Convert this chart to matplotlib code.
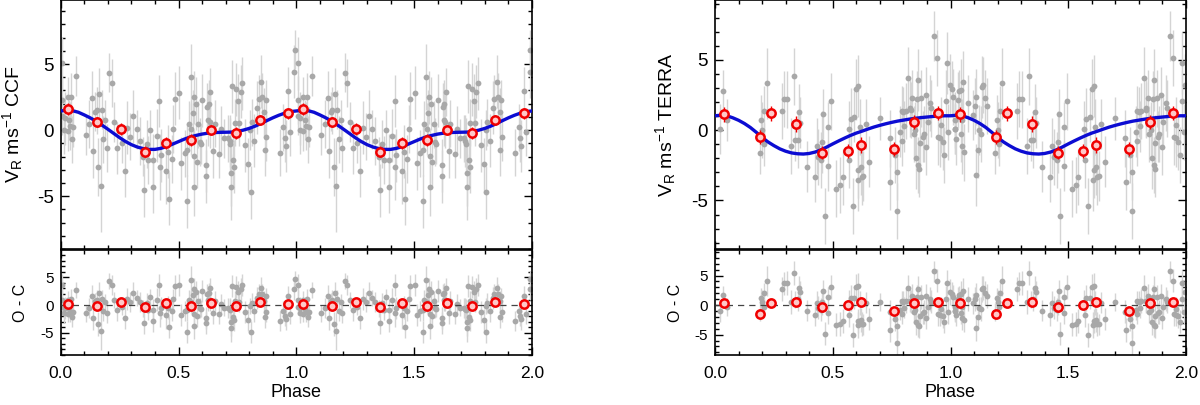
import numpy as np
import matplotlib
matplotlib.use('Agg')
import matplotlib.pyplot as plt
from matplotlib.ticker import MultipleLocator, FormatStrFormatter

plt.rcParams['font.family'] = ['Liberation Sans', 'DejaVu Sans']
plt.rcParams['mathtext.default'] = 'regular'
plt.rcParams['axes.unicode_minus'] = False

# ---------------- CCF data (phase 0-1, shown twice) ----------------
ccf_phase = [0.007, 0.007, 0.030, 0.045, 0.007, 0.017, 0.035, 0.040, 0.054, 0.014,
             0.030, 0.050, 0.066, 0.106, 0.120, 0.134, 0.137, 0.146, 0.153, 0.158,
             0.163, 0.170, 0.174, 0.181, 0.188, 0.195, 0.205, 0.216, 0.226, 0.240,
             0.259, 0.272, 0.283, 0.294, 0.308, 0.322, 0.335, 0.351, 0.354, 0.365,
             0.370, 0.379, 0.393, 0.393, 0.407, 0.417, 0.420, 0.424, 0.447, 0.455,
             0.460, 0.471, 0.478, 0.484, 0.502, 0.512, 0.526, 0.537, 0.537, 0.543,
             0.552, 0.555, 0.560, 0.565, 0.566, 0.566, 0.573, 0.577, 0.583, 0.590,
             0.594, 0.601, 0.618, 0.618, 0.622, 0.625, 0.628, 0.632, 0.635, 0.646,
             0.653, 0.672, 0.681, 0.693, 0.710, 0.717, 0.720, 0.724, 0.724, 0.728,
             0.731, 0.735, 0.738, 0.745, 0.752, 0.756, 0.763, 0.771, 0.783, 0.795,
             0.805, 0.806, 0.811, 0.820, 0.833, 0.840, 0.852, 0.856, 0.863, 0.870,
             0.873, 0.866, 0.929, 0.943, 0.950, 0.954, 0.964, 0.974, 0.990, 0.993]
ccf_rv = [5.05, 2.30, 2.50, 2.50, 1.10, 0.90, 0.75, 0.30, 0.25, 0.00,
          -0.05, -0.70, 4.10, -0.40, 0.45, 2.45, -1.60, 1.40, 1.50, -2.80,
          2.70, -4.25, 1.55, -0.70, 0.80, -1.35, 4.35, 3.55, 0.63, -1.35,
          -1.00, -3.10, 0.18, -0.50, 1.06, 0.05, -0.83, -2.00, -4.55, -1.06,
          -2.27, 0.00, -4.30, -2.30, -0.43, 2.20, -2.78, -1.90, -3.10, -1.64,
          -5.18, -2.20, 0.10, 2.37, 2.83, -2.50, -1.77, -1.50, -5.40, 0.43,
          4.00, 0.08, 1.26, 2.50, -1.97, -4.30, 2.00, -2.40, 0.43, -0.88,
          -1.06, 2.27, -2.65, -3.50, 1.77, 0.76, 2.00, 0.63, 2.88, -1.60,
          0.50, -1.84, 0.05, -0.63, -0.63, -0.83, -1.06, -3.23, -4.30, 3.33,
          -2.27, -2.78, 0.56, 3.08, 2.22, 0.56, 2.90, 3.54, -1.14, -2.58,
          0.00, -4.72, 0.58, -0.80, 1.70, 2.35, 3.66, 2.52, 1.39, 2.27,
          -0.55, -1.50, -1.70, 0.20, -0.63, -1.20, 2.95, -0.13, 4.42, 6.10]
ccf_err = [2.0, 1.8, 1.5, 1.8, 1.5, 2.0, 1.5, 1.8, 1.5, 1.8,
           1.5, 1.8, 1.5, 1.5, 1.8, 2.0, 2.0, 1.5, 1.8, 2.2,
           2.0, 3.5, 1.5, 1.8, 1.5, 1.8, 1.5, 1.8, 1.5, 2.0,
           1.5, 2.0, 2.0, 1.8, 2.0, 1.5, 1.8, 1.5, 2.0, 1.8,
           1.8, 1.5, 2.0, 2.0, 2.0, 2.0, 2.5, 2.0, 2.5, 2.0,
           2.0, 1.8, 1.8, 2.0, 2.0, 2.0, 1.8, 2.0, 2.0, 1.8,
           2.5, 2.0, 1.8, 2.0, 2.0, 2.2, 2.0, 2.0, 1.8, 1.8,
           1.5, 2.0, 2.0, 2.0, 1.8, 2.0, 1.8, 2.0, 1.8, 2.0,
           1.8, 1.8, 1.8, 1.5, 1.8, 2.0, 2.0, 2.5, 2.5, 2.0,
           2.0, 2.0, 1.8, 2.0, 2.0, 1.8, 2.0, 2.0, 2.0, 2.0,
           1.5, 2.0, 1.8, 2.0, 2.0, 1.8, 2.0, 1.8, 1.8, 1.5,
           1.8, 2.0, 1.8, 1.8, 1.8, 2.0, 1.8, 1.8, 2.0, 1.5]

ccf_bin_phase = [0.030, 0.153, 0.255, 0.356, 0.447, 0.555, 0.639, 0.745, 0.844, 0.964]
ccf_bin_rv = [1.57, 0.63, 0.08, -1.64, -1.00, -0.76, 0.00, -0.25, 0.76, 1.26]
ccf_bin_err = [0.45, 0.40, 0.45, 0.40, 0.45, 0.45, 0.40, 0.45, 0.40, 0.45]
ccf_bin_res = [0.18, -0.12, 0.60, -0.30, 0.30, -0.24, 0.37, -0.12, 0.55, 0.12]

ccf_model_phase = [0.000, 0.025, 0.050, 0.075, 0.100, 0.125, 0.150, 0.175, 0.200, 0.225,
                   0.250, 0.275, 0.300, 0.325, 0.350, 0.375, 0.400, 0.425, 0.450, 0.475,
                   0.500, 0.525, 0.550, 0.575, 0.600, 0.625, 0.650, 0.675, 0.700, 0.725,
                   0.750, 0.775, 0.800, 0.825, 0.850, 0.875, 0.900, 0.925, 0.950, 0.975, 1.000]
ccf_model_rv = [1.45, 1.50, 1.47, 1.35, 1.15, 0.93, 0.68, 0.38, 0.07, -0.25,
                -0.57, -0.86, -1.10, -1.28, -1.40, -1.46, -1.46, -1.38, -1.24, -1.06,
                -0.87, -0.68, -0.52, -0.40, -0.30, -0.23, -0.19, -0.17, -0.16, -0.15,
                -0.10, 0.00, 0.13, 0.30, 0.50, 0.72, 0.93, 1.12, 1.28, 1.40, 1.45]

# ---------------- TERRA data ----------------
terra_phase = [0.035, 0.021, 0.050, 0.190, 0.196, 0.200, 0.208, 0.210, 0.220, 0.284,
               0.292, 0.305, 0.334, 0.324, 0.341, 0.351, 0.358, 0.362, 0.390, 0.424,
               0.432, 0.452, 0.456, 0.459, 0.439, 0.467, 0.480, 0.481, 0.494, 0.515,
               0.532, 0.542, 0.567, 0.571, 0.577, 0.584, 0.591, 0.599, 0.608, 0.614,
               0.609, 0.607, 0.619, 0.623, 0.630, 0.641, 0.654, 0.700, 0.742, 0.745,
               0.764, 0.771, 0.771, 0.786, 0.794, 0.803, 0.792, 0.799, 0.809, 0.820,
               0.829, 0.831, 0.837, 0.845, 0.850, 0.855, 0.859, 0.862, 0.864, 0.867,
               0.870, 0.876, 0.883, 0.887, 0.894, 0.897, 0.904, 0.914, 0.918, 0.932,
               0.943, 0.949, 0.957, 0.958, 0.967, 0.974, 0.981, 0.985, 0.991, 0.996]
terra_rv = [2.78, 0.07, 0.70, -1.60, 0.71, 0.00, -1.02, 1.35, 3.32, 1.38,
            2.23, 2.18, 3.82, -1.14, -0.71, -0.71, 1.26, 0.52, -2.60, -3.32,
            -1.12, -2.14, -0.83, 1.14, -1.90, -6.10, 0.19, -2.54, 2.04, -4.15,
            -3.90, -3.32, 0.07, -2.14, 0.76, -5.40, 0.95, 2.89, 3.13, 0.24,
            -2.85, -3.56, -2.61, -3.32, -3.27, 0.43, -2.25, 0.83, -0.59, -3.68,
            -1.78, -2.97, -5.77, -0.12, 1.35, 0.28, -0.76, 1.30, 1.38, 3.72,
            1.54, 1.42, 2.30, -0.28, 0.00, -1.95, 2.18, 3.56, -2.49, -2.73,
            -0.90, 2.25, -0.47, -0.28, 2.49, -1.19, 0.59, 1.95, 1.54, 6.69,
            5.15, -0.47, -0.59, 0.36, -0.83, -1.78, 2.09, 4.79, -0.12, 3.20]
terra_err = [1.5, 1.8, 1.5, 1.5, 1.8, 2.0, 1.5, 1.8, 2.5, 2.0,
             2.0, 2.0, 2.0, 2.0, 1.5, 2.0, 2.0, 1.8, 1.8, 1.8,
             2.0, 2.0, 2.2, 1.8, 2.0, 2.0, 1.8, 1.8, 2.0, 2.0,
             2.0, 2.0, 2.0, 2.0, 2.2, 2.0, 1.8, 2.2, 2.2, 2.0,
             2.0, 2.2, 2.0, 2.0, 1.8, 1.8, 1.8, 1.5, 2.0, 2.0,
             2.0, 2.0, 2.0, 1.8, 1.8, 1.8, 1.8, 1.8, 2.0, 2.2,
             2.0, 2.0, 2.0, 2.0, 2.0, 2.2, 2.0, 2.2, 2.0, 2.0,
             2.0, 2.0, 1.8, 2.0, 2.0, 2.0, 1.8, 2.0, 2.0, 1.8,
             2.0, 2.0, 2.0, 2.0, 2.0, 2.0, 2.2, 2.2, 2.0, 2.2]
# points that appear only once, just after phase 1.0
terra_extra_phase = [1.006, 1.012, 1.017, 1.020, 1.024, 1.032, 1.043, 1.046, 1.050, 1.055,
                     1.057, 1.074, 1.095, 1.102, 1.110, 1.108, 1.116, 1.123, 1.130, 1.134,
                     1.140, 1.148, 1.155]
terra_extra_rv = [2.92, 2.37, 0.10, 0.71, -0.66, 2.14, 2.85, -0.24, -1.14, 3.39,
                  -1.59, 1.90, 1.07, 1.71, 2.37, -3.20, -1.38, 0.00, -0.28, 3.08,
                  3.20, 2.25, 1.71]
terra_extra_err = [2.0, 2.0, 1.8, 2.0, 1.8, 2.0, 2.2, 2.0, 2.0, 2.2,
                   2.0, 2.0, 1.8, 2.0, 2.0, 2.2, 2.0, 1.8, 2.0, 2.2,
                   2.0, 2.0, 2.0]

terra_bin_phase = [0.039, 0.192, 0.239, 0.344, 0.456, 0.563, 0.618, 0.758, 0.846, 0.945]
terra_bin_rv = [1.12, -0.47, 1.19, 0.43, -1.61, -1.49, -1.07, -1.35, 0.55, 1.19]
terra_bin_err = [0.55, 0.50, 0.55, 0.55, 0.45, 0.50, 0.55, 0.50, 0.50, 0.50]
terra_bin_res = [0.30, -1.55, 0.40, 0.46, -0.40, 0.10, 0.46, -1.00, 0.34, 0.57]

terra_model_phase = ccf_model_phase
terra_model_rv = [1.02, 1.06, 1.02, 0.88, 0.70, 0.47, 0.19, -0.15, -0.52, -0.84,
                  -1.10, -1.33, -1.50, -1.62, -1.68, -1.70, -1.66, -1.56, -1.40, -1.20,
                  -0.98, -0.77, -0.57, -0.38, -0.21, -0.07, 0.08, 0.22, 0.34, 0.45,
                  0.55, 0.64, 0.71, 0.78, 0.84, 0.89, 0.93, 0.97, 1.00, 1.02, 1.02]

GRAY = '#a8a8a8'
EGRAY = '#d4d4d4'

fig = plt.figure(figsize=(12, 4.05), dpi=100)


def style(ax, ymajor, yminor):
    ax.set_xlim(0, 2)
    ax.xaxis.set_major_locator(MultipleLocator(0.5))
    ax.xaxis.set_minor_locator(MultipleLocator(0.1))
    ax.yaxis.set_major_locator(MultipleLocator(ymajor))
    ax.yaxis.set_minor_locator(MultipleLocator(yminor))
    ax.tick_params(which='both', direction='in', top=True, right=True, width=1.0)
    ax.tick_params(which='major', length=6)
    ax.tick_params(which='minor', length=3)
    for s in ax.spines.values():
        s.set_linewidth(1.2)


def panel(left, width, ph, rv, err, xph, xrv, xerr, bph, brv, berr, bres,
          mph, mrv, ylim, name, lab_x, oc_x):
    axm = fig.add_axes([left, 0.3852, width, 0.6148])
    axr = fig.add_axes([left, 0.1235, width, 0.2580])
    ph = np.asarray(ph); rv = np.asarray(rv); err = np.asarray(err)
    mph = np.asarray(mph); mrv = np.asarray(mrv)
    allph = np.concatenate([ph, ph + 1, np.asarray(xph)])
    allrv = np.concatenate([rv, rv, np.asarray(xrv)])
    allerr = np.concatenate([err, err, np.asarray(xerr)])
    allres = allrv - np.interp(allph % 1.0, mph, mrv)
    bph = np.asarray(bph)
    bph2 = np.concatenate([bph, bph + 1])
    brv2 = np.concatenate([brv, brv])
    berr2 = np.concatenate([berr, berr])
    bres2 = np.concatenate([bres, bres])
    cph = np.concatenate([mph, mph[1:] + 1])
    crv = np.concatenate([mrv, mrv[1:]])

    axm.errorbar(allph, allrv, yerr=allerr, fmt='o', ms=4.2, mfc=GRAY, mec='none',
                 ecolor=EGRAY, elinewidth=1.0, capsize=0, zorder=2)
    axm.plot(cph, crv, color='#0c0cd2', lw=2.4, zorder=3)
    axm.errorbar(bph2, brv2, yerr=berr2, fmt='o', ms=6.0, mfc='#ffc8c8', mec='#f00000',
                 mew=1.8, ecolor='#f00000', elinewidth=1.0, capsize=0, zorder=4)
    axm.set_ylim(*ylim)
    style(axm, 5, 1)
    axm.tick_params(labelbottom=False, labelsize=13.5, pad=5)
    axm.set_ylabel('V$_{R}$ ms$^{-1}$ ' + name, fontsize=14)
    axm.yaxis.set_label_coords(lab_x, 0.5)

    axr.errorbar(allph, allres, yerr=allerr, fmt='o', ms=4.2, mfc=GRAY, mec='none',
                 ecolor=EGRAY, elinewidth=1.0, capsize=0, zorder=2)
    axr.axhline(0, color='#444444', lw=0.9, ls=(0, (5, 4)), zorder=3)
    axr.errorbar(bph2, bres2, yerr=berr2, fmt='o', ms=6.0, mfc='#ffc8c8', mec='#f00000',
                 mew=1.8, ecolor='#f00000', elinewidth=1.0, capsize=0, zorder=4)
    axr.set_ylim(*ylim)
    style(axr, 5, 1)
    axr.tick_params(axis='x', labelsize=12.5, pad=8)
    axr.tick_params(axis='y', labelsize=11, pad=5)
    axr.xaxis.set_major_formatter(FormatStrFormatter('%.1f'))
    axr.set_xlabel('Phase', fontsize=13, labelpad=2)
    axr.set_ylabel('O - C', fontsize=11.5)
    axr.yaxis.set_label_coords(oc_x, 0.5)


panel(60.7 / 1200, 471.3 / 1200, ccf_phase, ccf_rv, ccf_err, [], [], [],
      ccf_bin_phase, ccf_bin_rv, ccf_bin_err, ccf_bin_res,
      ccf_model_phase, ccf_model_rv, (-9.0, 9.85), 'CCF', -0.076, -0.070)
panel(715 / 1200, 471 / 1200, terra_phase, terra_rv, terra_err,
      terra_extra_phase, terra_extra_rv, terra_extra_err,
      terra_bin_phase, terra_bin_rv, terra_bin_err, terra_bin_res,
      terra_model_phase, terra_model_rv, (-8.45, 9.25), 'TERRA', -0.078, -0.067)

fig.savefig('out.png', dpi=100)
